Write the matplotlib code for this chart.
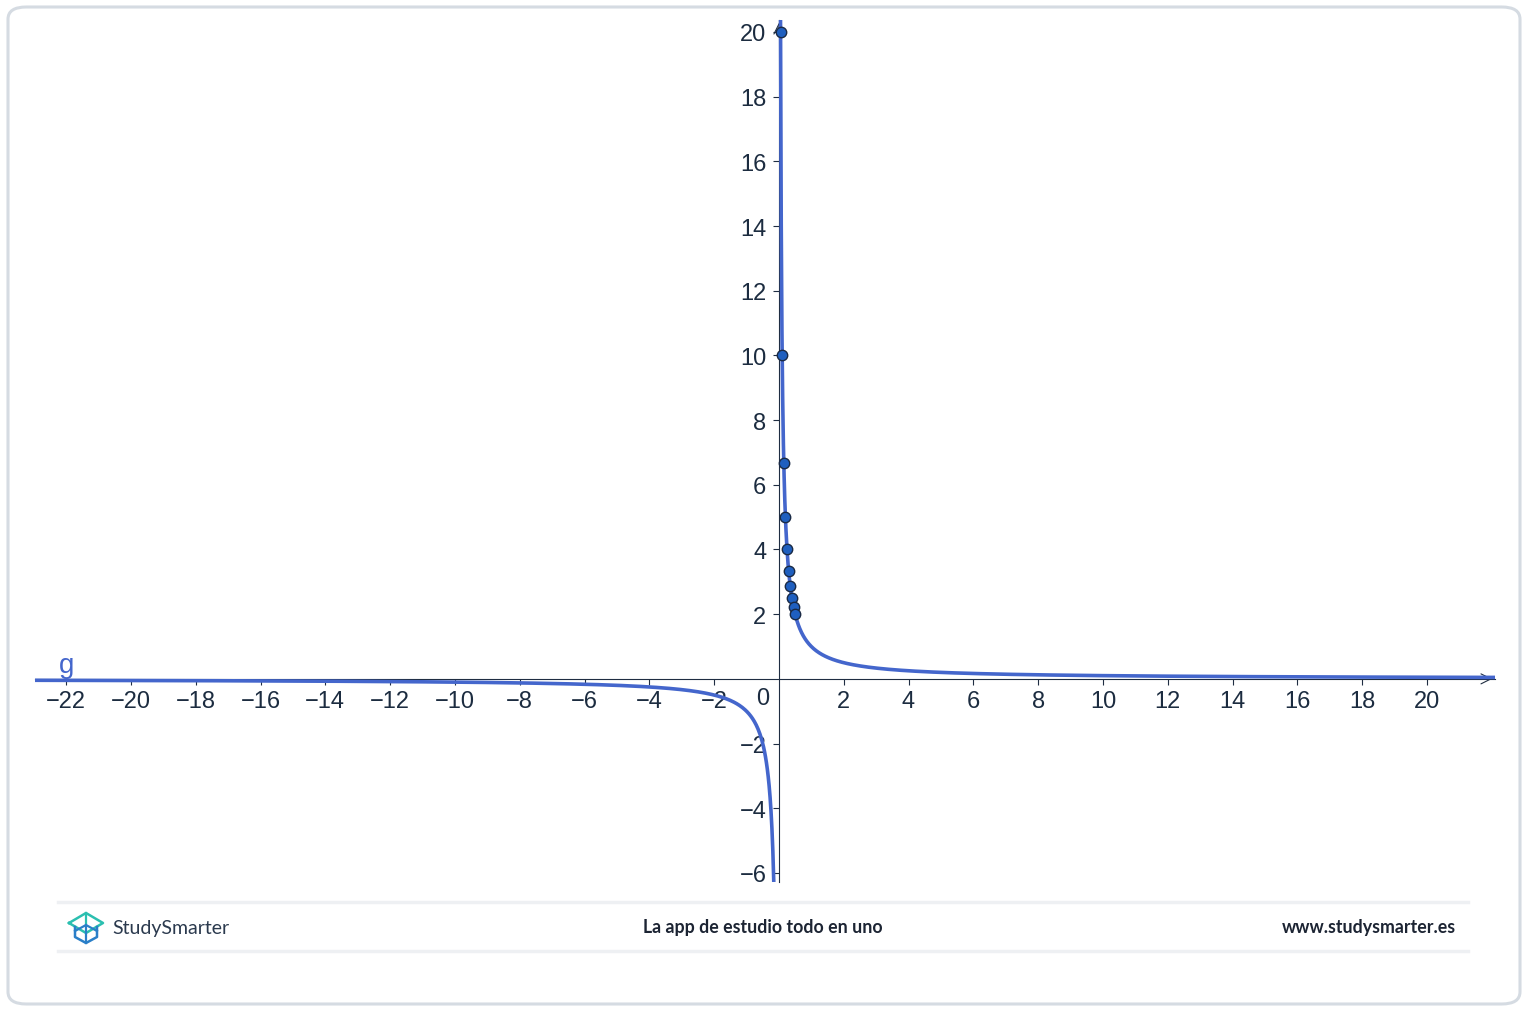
import numpy as np
import matplotlib.pyplot as plt
from matplotlib.patches import FancyBboxPatch
from matplotlib.lines import Line2D

# Pontos marcados sobre g(x) = 1/x
point_x = [0.05, 0.1, 0.15, 0.2, 0.25, 0.3, 0.35, 0.4, 0.45, 0.5]
point_y = [20, 10, 6.67, 5, 4, 3.33, 2.86, 2.5, 2.22, 2]
x_ticks = [-22, -20, -18, -16, -14, -12, -10, -8, -6, -4, -2, 2, 4, 6, 8, 10, 12, 14, 16, 18, 20]
y_ticks = [-6, -4, -2, 2, 4, 6, 8, 10, 12, 14, 16, 18, 20]
xlim = (-22.96, 22.1)
ylim = (-6.28, 20.37)

W, H = 1527, 1012
plt.rcParams['font.family'] = ['Liberation Sans', 'DejaVu Sans']
fig = plt.figure(figsize=(W / 100, H / 100), dpi=100)


def fx(px):
    return px / W


def fy(py):
    return 1 - py / H


# Moldura arredondada
frame = FancyBboxPatch((fx(8), fy(1005)), fx(1512), 997 / H,
                       boxstyle="round,pad=0,rounding_size=0.012",
                       transform=fig.transFigure, fill=False,
                       edgecolor='#d5dbe2', linewidth=2.2)
fig.add_artist(frame)

axis_col = '#1f2d42'
curve_col = '#4466cc'

ax = fig.add_axes([fx(35), fy(883), fx(1495 - 35), (883 - 21) / H])
ax.set_xlim(*xlim)
ax.set_ylim(*ylim)
for s in ['top', 'right']:
    ax.spines[s].set_visible(False)
ax.spines['bottom'].set_position(('data', 0))
ax.spines['left'].set_position(('data', 0))
ax.set_xticks(x_ticks)
ax.set_yticks(y_ticks)
ax.tick_params(axis='both', colors=axis_col, labelsize=17, length=4, width=0.8)
ax.tick_params(axis='x', pad=4)
ax.tick_params(axis='y', pad=5)
ax.set_xticklabels([f"\u2212{-t}" if t < 0 else str(t) for t in x_ticks])
ax.set_yticklabels([f"\u2212{-t}" if t < 0 else str(t) for t in y_ticks])
for lab in ax.get_xticklabels() + ax.get_yticklabels():
    lab.set_color('#1c2c40')
for s in ['bottom', 'left']:
    ax.spines[s].set_color(axis_col)
    ax.spines[s].set_linewidth(0.8)
ax.text(-0.5, -0.25, "0", ha='center', va='top', fontsize=17, color='#1c2c40')

# Setas dos eixos
ax.annotate('', xy=(xlim[1], 0), xytext=(xlim[1] - 0.5, 0),
            arrowprops=dict(arrowstyle='->', color=axis_col, lw=0.8,
                            mutation_scale=18), annotation_clip=False)
ax.annotate('', xy=(0, ylim[1]), xytext=(0, ylim[1] - 0.5),
            arrowprops=dict(arrowstyle='->', color=axis_col, lw=0.8,
                            mutation_scale=18), annotation_clip=False)

# Curva g(x) = 1/x
xn = np.linspace(xlim[0], -1 / 6.28, 800)
xp = np.linspace(1 / 20.37, xlim[1], 2000)
ax.plot(xn, 1 / xn, color=curve_col, lw=2.6, zorder=3, solid_capstyle='butt')
ax.plot(xp, 1 / xp, color=curve_col, lw=2.6, zorder=3, solid_capstyle='butt')
ax.plot(point_x, point_y, 'o', ms=7.5, mfc='#1f5fbf', mec='#1a2a45', mew=1, zorder=4)
ax.text(-22.0, 0.2, "g", color=curve_col, fontsize=20, ha='center', va='baseline')

# Rodapé
for py in (903, 952):
    fig.add_artist(Line2D([fx(58), fx(1468)], [fy(py), fy(py)],
                          color='#eef0f3', lw=2.5))

logo = fig.add_axes([fx(66), fy(946), fx(40), 36 / H])
logo.set_xlim(0, 40)
logo.set_ylim(0, 36)
logo.axis('off')
teal = '#2bbfb0'
blue2 = '#2a7fc8'
logo.plot([3, 20, 37, 20, 3], [22, 32, 22, 12, 22], color=teal, lw=1.8)
logo.plot([20, 20], [32, 22], color=teal, lw=1.6)
logo.plot([9, 9, 20, 31, 31], [18, 8, 2, 8, 18], color=blue2, lw=1.8)
logo.plot([9, 20, 31], [14, 20, 14], color=blue2, lw=1.6)
logo.plot([20, 20], [2, 20], color=blue2, lw=1.6)

fig.text(fx(112), fy(929), "StudySmarter", fontsize=14, color='#2b3a4e',
         ha='left', va='center', family=['Lato', 'DejaVu Sans'])
fig.text(fx(763), fy(928), "La app de estudio todo en uno", fontsize=12.8,
         color='#1c2433', ha='center', va='center', fontweight='bold',
         family=['Lato', 'DejaVu Sans'])
fig.text(fx(1456), fy(928), "www.studysmarter.es", fontsize=12.8,
         color='#1c2433', ha='right', va='center', fontweight='bold',
         family=['Lato', 'DejaVu Sans'])

fig.savefig('out.png', dpi=100)
